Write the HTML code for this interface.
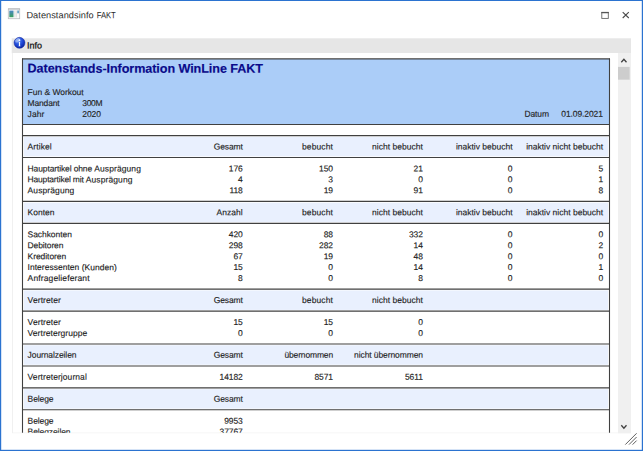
<!DOCTYPE html>
<html lang="de"><head><meta charset="utf-8"><title>Datenstandsinfo FAKT</title>
<style>
html,body{margin:0;padding:0;background:#fff;overflow:hidden}
body{width:643px;height:451px;font-family:"Liberation Sans",sans-serif}
svg{display:block;position:absolute;left:0;top:0}
text{font-family:"Liberation Sans",sans-serif;white-space:pre}
.t{font-size:8.5px;letter-spacing:-0.1px;fill:#222222;stroke:#222222;stroke-width:0.13px}
.r{text-anchor:end}
.ln{stroke:#404040;stroke-width:1.1;fill:none}
</style></head><body>
<svg width="643" height="451" viewBox="0 0 643 451">
<defs>
<clipPath id="panel"><rect x="13" y="53.5" width="605" height="379.2"/></clipPath>
<radialGradient id="ib" cx="0.38" cy="0.3" r="0.75"><stop offset="0" stop-color="#5b8df5"/><stop offset="0.55" stop-color="#1f48d8"/><stop offset="1" stop-color="#0c249c"/></radialGradient>
<linearGradient id="gb" x1="0" y1="0" x2="0" y2="1"><stop offset="0" stop-color="#4b86c6"/><stop offset="1" stop-color="#3aa05c"/></linearGradient>
</defs>
<rect x="0" y="0" width="643" height="451" fill="#2b73d0"/>
<rect x="1.2" y="1" width="640.5999999999999" height="448.8" fill="#ffffff"/>
<g id="appicon">
<rect x="8.3" y="8.9" width="11.4" height="9.8" fill="#fbfbfb" stroke="#b9bcc0" stroke-width="0.8"/>
<rect x="8.0" y="8.5" width="12" height="0.9" fill="#b0b3b8"/>
<rect x="9.3" y="10.6" width="4.2" height="6.6" fill="url(#gb)"/>
<rect x="14.6" y="10.4" width="0.7" height="7" fill="#c9c9c9"/>
<rect x="16.0" y="10.4" width="0.6" height="7" fill="#d6d6d6"/>
<rect x="17.2" y="10.5" width="1.8" height="2.8" fill="#6aa6c8"/>
</g>
<text transform="matrix(1 0.0005 0 1 26.4 18.3)" style="font-size:9.2px;letter-spacing:0.06px;fill:#2a2a2a">Datenstandsinfo</text>
<text transform="matrix(0.84 0.0005 0 1 96.7 18.3)" style="font-size:9.2px;letter-spacing:-0.1px;fill:#2a2a2a">FAKT</text>
<rect x="601.8" y="12.6" width="6.5" height="5.8" fill="none" stroke="#666" stroke-width="0.9"/>
<rect x="601.3" y="11.9" width="7.5" height="1.3" fill="#555"/>
<path d="M622.7 12.2 L628.8 18 M628.8 12.2 L622.7 18" stroke="#484848" stroke-width="1.05" fill="none"/>
<rect x="11.7" y="38.3" width="619.3" height="15" fill="#e6e6e6"/>
<rect x="12" y="53" width="619" height="380.2" fill="#f0f0f0"/>
<rect x="13" y="53" width="605" height="379.6" fill="#ffffff"/>
<rect x="618" y="53.2" width="13" height="380" fill="#f0f0f0"/>
<rect x="618" y="66.9" width="11.7" height="12.8" fill="#cdcdcd"/>
<path d="M621.3 62.3 L623.9 59.3 L626.5 62.3" stroke="#404040" stroke-width="1.3" fill="none"/>
<path d="M621.3 425.2 L623.9 428.2 L626.5 425.2" stroke="#404040" stroke-width="1.3" fill="none"/>
<circle cx="19.5" cy="42.8" r="5.45" fill="url(#ib)" stroke="#0b1f96" stroke-width="0.5"/>
<ellipse cx="17.5" cy="40.3" rx="2.7" ry="1.7" transform="rotate(-38 17.5 40.3)" fill="#ffffff" opacity="0.4"/>
<circle cx="19.5" cy="40.2" r="0.85" fill="#f6f9ff"/>
<path d="M18.7 41.8 H20.1 V45.2 L20.5 46.3 H18.5 L18.9 45.2 V42.5 H18.7 Z" fill="#f6f9ff"/>
<text transform="matrix(1 0.0005 0 1 27 48.5)" style="font-size:9px;fill:#101010;stroke:#101010;stroke-width:0.25px">Info</text>
<path d="M625.3 444.6 L636.6 433.3 M629 444.6 L636.6 437 M632.6 444.6 L636.6 440.6" stroke="#606060" stroke-width="1" fill="none"/>
<g clip-path="url(#panel)">
<rect x="22.5" y="59" width="587.0" height="65.5" fill="#abcdf8"/>
<rect x="23.9" y="136.90" width="584.1" height="19.44" fill="#e9f0fe"/>
<rect x="23.9" y="202.71" width="584.1" height="19.44" fill="#e9f0fe"/>
<rect x="23.9" y="290.45" width="584.1" height="19.44" fill="#e9f0fe"/>
<rect x="23.9" y="345.29" width="584.1" height="19.44" fill="#e9f0fe"/>
<rect x="23.9" y="389.16" width="584.1" height="19.44" fill="#e9f0fe"/>
<path class="ln" d="M22.0 58.85 H610.0"/>
<path class="ln" d="M22.0 124.5 H610.0"/>
<path class="ln" d="M22.0 135.6 H610.0"/>
<path class="ln" d="M22.0 157.54 H610.0"/>
<path class="ln" d="M22.0 201.41 H610.0"/>
<path class="ln" d="M22.0 223.34 H610.0"/>
<path class="ln" d="M22.0 289.15 H610.0"/>
<path class="ln" d="M22.0 311.09 H610.0"/>
<path class="ln" d="M22.0 343.99 H610.0"/>
<path class="ln" d="M22.0 365.93 H610.0"/>
<path class="ln" d="M22.0 387.86 H610.0"/>
<path class="ln" d="M22.0 409.8 H610.0"/>
<path class="ln" d="M22.5 58.5 V440 M609.5 58.5 V440"/>
<text transform="matrix(1 0.0005 0 1 27.6 72.6)" style="font-size:12.6px;font-weight:bold;fill:#0a0a8a;stroke:#0a0a8a;stroke-width:0.15px;letter-spacing:-0.07px">Datenstands-Information WinLine FAKT</text>
<text class="t" style="letter-spacing:-0.04px" transform="matrix(1 0.0005 0 1 27.6 95.10)">Fun &amp; Workout</text>
<text class="t" style="letter-spacing:-0.18px" transform="matrix(1 0.0005 0 1 27.6 106.10)">Mandant</text>
<text class="t" style="letter-spacing:-0.35px" transform="matrix(1 0.0005 0 1 82.3 106.10)">300M</text>
<text class="t" style="letter-spacing:0.07px" transform="matrix(1 0.0005 0 1 27.6 117.00)">Jahr</text>
<text class="t" transform="matrix(1 0.0005 0 1 82.3 117.00)">2020</text>
<text class="t" transform="matrix(1 0.0005 0 1 524.4 116.80)">Datum</text>
<text class="t r" transform="matrix(1 0.0005 0 1 602.8 116.80)">01.09.2021</text>
<text class="t" style="letter-spacing:0.07px" transform="matrix(1 0.0005 0 1 27.6 149.45)">Artikel</text>
<text class="t r" transform="matrix(1 0.0005 0 1 242.8 149.45)">Gesamt</text>
<text class="t r" style="letter-spacing:0.1px" transform="matrix(1 0.0005 0 1 333.0 149.45)">bebucht</text>
<text class="t r" style="letter-spacing:0.025px" transform="matrix(1 0.0005 0 1 422.9 149.45)">nicht bebucht</text>
<text class="t r" style="letter-spacing:0.0px" transform="matrix(1 0.0005 0 1 512.6 149.45)">inaktiv bebucht</text>
<text class="t r" style="letter-spacing:0.0px" transform="matrix(1 0.0005 0 1 603.2 149.45)">inaktiv nicht bebucht</text>
<text class="t" transform="matrix(1 0.0005 0 1 27.6 171.39)"><tspan style="letter-spacing:-0.13px">Hauptartikel ohne </tspan><tspan style="letter-spacing:0.09px">Ausprägung</tspan></text>
<text class="t r" transform="matrix(1 0.0005 0 1 242.70000000000002 171.39)">176</text>
<text class="t r" transform="matrix(1 0.0005 0 1 332.9 171.39)">150</text>
<text class="t r" transform="matrix(1 0.0005 0 1 422.79999999999995 171.39)">21</text>
<text class="t r" transform="matrix(1 0.0005 0 1 512.5 171.39)">0</text>
<text class="t r" transform="matrix(1 0.0005 0 1 603.1 171.39)">5</text>
<text class="t" transform="matrix(1 0.0005 0 1 27.6 182.35)"><tspan style="letter-spacing:-0.19px">Hauptartikel mit </tspan><tspan style="letter-spacing:0.09px">Ausprägung</tspan></text>
<text class="t r" transform="matrix(1 0.0005 0 1 242.70000000000002 182.35)">4</text>
<text class="t r" transform="matrix(1 0.0005 0 1 332.9 182.35)">3</text>
<text class="t r" transform="matrix(1 0.0005 0 1 422.79999999999995 182.35)">0</text>
<text class="t r" transform="matrix(1 0.0005 0 1 512.5 182.35)">0</text>
<text class="t r" transform="matrix(1 0.0005 0 1 603.1 182.35)">1</text>
<text class="t" style="letter-spacing:0.09px" transform="matrix(1 0.0005 0 1 27.6 193.32)">Ausprägung</text>
<text class="t r" transform="matrix(1 0.0005 0 1 242.70000000000002 193.32)">118</text>
<text class="t r" transform="matrix(1 0.0005 0 1 332.9 193.32)">19</text>
<text class="t r" transform="matrix(1 0.0005 0 1 422.79999999999995 193.32)">91</text>
<text class="t r" transform="matrix(1 0.0005 0 1 512.5 193.32)">0</text>
<text class="t r" transform="matrix(1 0.0005 0 1 603.1 193.32)">8</text>
<text class="t" style="letter-spacing:0.0px" transform="matrix(1 0.0005 0 1 27.6 215.26)">Konten</text>
<text class="t r" style="letter-spacing:0.05px" transform="matrix(1 0.0005 0 1 242.8 215.26)">Anzahl</text>
<text class="t r" style="letter-spacing:0.1px" transform="matrix(1 0.0005 0 1 333.0 215.26)">bebucht</text>
<text class="t r" style="letter-spacing:0.025px" transform="matrix(1 0.0005 0 1 422.9 215.26)">nicht bebucht</text>
<text class="t r" style="letter-spacing:0.0px" transform="matrix(1 0.0005 0 1 512.6 215.26)">inaktiv bebucht</text>
<text class="t r" style="letter-spacing:0.0px" transform="matrix(1 0.0005 0 1 603.2 215.26)">inaktiv nicht bebucht</text>
<text class="t" style="letter-spacing:-0.07px" transform="matrix(1 0.0005 0 1 27.6 237.19)">Sachkonten</text>
<text class="t r" transform="matrix(1 0.0005 0 1 242.70000000000002 237.19)">420</text>
<text class="t r" transform="matrix(1 0.0005 0 1 332.9 237.19)">88</text>
<text class="t r" transform="matrix(1 0.0005 0 1 422.79999999999995 237.19)">332</text>
<text class="t r" transform="matrix(1 0.0005 0 1 512.5 237.19)">0</text>
<text class="t r" transform="matrix(1 0.0005 0 1 603.1 237.19)">0</text>
<text class="t" style="letter-spacing:-0.13px" transform="matrix(1 0.0005 0 1 27.6 248.16)">Debitoren</text>
<text class="t r" transform="matrix(1 0.0005 0 1 242.70000000000002 248.16)">298</text>
<text class="t r" transform="matrix(1 0.0005 0 1 332.9 248.16)">282</text>
<text class="t r" transform="matrix(1 0.0005 0 1 422.79999999999995 248.16)">14</text>
<text class="t r" transform="matrix(1 0.0005 0 1 512.5 248.16)">0</text>
<text class="t r" transform="matrix(1 0.0005 0 1 603.1 248.16)">2</text>
<text class="t" style="letter-spacing:-0.07px" transform="matrix(1 0.0005 0 1 27.6 259.13)">Kreditoren</text>
<text class="t r" transform="matrix(1 0.0005 0 1 242.70000000000002 259.13)">67</text>
<text class="t r" transform="matrix(1 0.0005 0 1 332.9 259.13)">19</text>
<text class="t r" transform="matrix(1 0.0005 0 1 422.79999999999995 259.13)">48</text>
<text class="t r" transform="matrix(1 0.0005 0 1 512.5 259.13)">0</text>
<text class="t r" transform="matrix(1 0.0005 0 1 603.1 259.13)">0</text>
<text class="t" style="letter-spacing:0.02px" transform="matrix(1 0.0005 0 1 27.6 270.10)">Interessenten (Kunden)</text>
<text class="t r" transform="matrix(1 0.0005 0 1 242.70000000000002 270.10)">15</text>
<text class="t r" transform="matrix(1 0.0005 0 1 332.9 270.10)">0</text>
<text class="t r" transform="matrix(1 0.0005 0 1 422.79999999999995 270.10)">14</text>
<text class="t r" transform="matrix(1 0.0005 0 1 512.5 270.10)">0</text>
<text class="t r" transform="matrix(1 0.0005 0 1 603.1 270.10)">1</text>
<text class="t" style="letter-spacing:0.13px" transform="matrix(1 0.0005 0 1 27.6 281.07)">Anfragelieferant</text>
<text class="t r" transform="matrix(1 0.0005 0 1 242.70000000000002 281.07)">8</text>
<text class="t r" transform="matrix(1 0.0005 0 1 332.9 281.07)">0</text>
<text class="t r" transform="matrix(1 0.0005 0 1 422.79999999999995 281.07)">8</text>
<text class="t r" transform="matrix(1 0.0005 0 1 512.5 281.07)">0</text>
<text class="t r" transform="matrix(1 0.0005 0 1 603.1 281.07)">0</text>
<text class="t" style="letter-spacing:0.09px" transform="matrix(1 0.0005 0 1 27.6 303.00)">Vertreter</text>
<text class="t r" transform="matrix(1 0.0005 0 1 242.8 303.00)">Gesamt</text>
<text class="t r" style="letter-spacing:0.1px" transform="matrix(1 0.0005 0 1 333.0 303.00)">bebucht</text>
<text class="t r" style="letter-spacing:0.025px" transform="matrix(1 0.0005 0 1 422.9 303.00)">nicht bebucht</text>
<text class="t" style="letter-spacing:0.09px" transform="matrix(1 0.0005 0 1 27.6 324.94)">Vertreter</text>
<text class="t r" transform="matrix(1 0.0005 0 1 242.70000000000002 324.94)">15</text>
<text class="t r" transform="matrix(1 0.0005 0 1 332.9 324.94)">15</text>
<text class="t r" transform="matrix(1 0.0005 0 1 422.79999999999995 324.94)">0</text>
<text class="t" style="letter-spacing:0.04px" transform="matrix(1 0.0005 0 1 27.6 335.91)">Vertretergruppe</text>
<text class="t r" transform="matrix(1 0.0005 0 1 242.70000000000002 335.91)">0</text>
<text class="t r" transform="matrix(1 0.0005 0 1 332.9 335.91)">0</text>
<text class="t r" transform="matrix(1 0.0005 0 1 422.79999999999995 335.91)">0</text>
<text class="t" transform="matrix(1 0.0005 0 1 27.6 357.84)">Journalzeilen</text>
<text class="t r" transform="matrix(1 0.0005 0 1 242.8 357.84)">Gesamt</text>
<text class="t r" style="letter-spacing:-0.15px" transform="matrix(1 0.0005 0 1 333.0 357.84)">übernommen</text>
<text class="t r" transform="matrix(1 0.0005 0 1 422.9 357.84)">nicht übernommen</text>
<text class="t" style="letter-spacing:0.07px" transform="matrix(1 0.0005 0 1 27.6 379.78)">Vertreterjournal</text>
<text class="t r" transform="matrix(1 0.0005 0 1 242.70000000000002 379.78)">14182</text>
<text class="t r" transform="matrix(1 0.0005 0 1 332.9 379.78)">8571</text>
<text class="t r" transform="matrix(1 0.0005 0 1 422.79999999999995 379.78)">5611</text>
<text class="t" transform="matrix(1 0.0005 0 1 27.6 401.71)">Belege</text>
<text class="t r" transform="matrix(1 0.0005 0 1 242.8 401.71)">Gesamt</text>
<text class="t" transform="matrix(1 0.0005 0 1 27.6 423.65)">Belege</text>
<text class="t r" transform="matrix(1 0.0005 0 1 242.70000000000002 423.65)">9953</text>
<text class="t" transform="matrix(1 0.0005 0 1 27.6 434.62)">Belegzeilen</text>
<text class="t r" transform="matrix(1 0.0005 0 1 242.70000000000002 434.62)">37767</text>
</g>
</svg></body></html>
